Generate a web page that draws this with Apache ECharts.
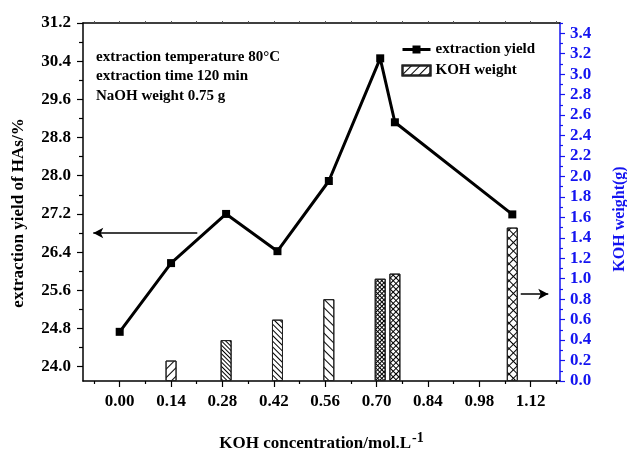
<!DOCTYPE html>
<html>
<head>
<meta charset="utf-8">
<script src="https://cdn.jsdelivr.net/npm/echarts@6/dist/echarts.min.js"></script>
<style>
  html, body { margin: 0; padding: 0; background: #fff; }
  #chart { width: 627px; height: 451px; }
</style>
</head>
<body>
<div id="chart"></div>
<script>
// KOH concentration (mol/L) and extraction yield (%)
const concX = [0, 0.14, 0.29, 0.43, 0.57, 0.71, 0.75, 1.07];
const yieldVals = [24.73, 26.17, 27.2, 26.42, 27.89, 30.46, 29.12, 27.19];
// KOH weight bars (g)
const barX = [0.14, 0.29, 0.43, 0.57, 0.71, 0.75, 1.07];
const barW = [0.2, 0.4, 0.6, 0.8, 1.0, 1.05, 1.5];

// tick labels
const xTicks = [0, 0.14, 0.28, 0.42, 0.56, 0.70, 0.84, 0.98, 1.12];
const xMinorTicks = [-0.07, 0.07, 0.21, 0.35, 0.49, 0.63, 0.77, 0.91, 1.05, 1.19];
const yieldTicks = [24.0, 24.8, 25.6, 26.4, 27.2, 28.0, 28.8, 29.6, 30.4, 31.2];
const yieldMinorTicks = [24.4, 25.2, 26.0, 26.8, 27.6, 28.4, 29.2, 30.0, 30.8];
const weightTicks = [0, 0.2, 0.4, 0.6, 0.8, 1.0, 1.2, 1.4, 1.6, 1.8, 2.0, 2.2, 2.4, 2.6, 2.8, 3.0, 3.2, 3.4];
const weightMinorTicks = [0.1, 0.3, 0.5, 0.7, 0.9, 1.1, 1.3, 1.5, 1.7, 1.9, 2.1, 2.3, 2.5, 2.7, 2.9, 3.1, 3.3, 3.5];

const FONT = "'Liberation Serif', 'Times New Roman', serif";
const BLUE = '#1414f0';

// hatch patterns
function lines(gap, rot) {
  return { color: '#000', symbol: 'rect', symbolSize: 1, symbolKeepAspect: false,
           dashArrayX: [1, 0], dashArrayY: [1, gap], rotation: rot };
}
function cross(gap) {
  return { color: '#000', symbol: 'rect', symbolSize: 1, symbolKeepAspect: false,
           dashArrayX: [[1, 0], [1, gap]], dashArrayY: [1, 0, gap, 0], rotation: Math.PI / 4 };
}
const hatch = [
  lines(5, -Math.PI / 4),
  lines(2, Math.PI / 4),
  lines(3, Math.PI / 4),
  lines(5, Math.PI / 4),
  cross(2),
  cross(3),
  cross(5)
];

const chart = echarts.init(document.getElementById('chart'));

const option = {
  backgroundColor: '#fff',
  animation: false,
  textStyle: { fontFamily: FONT },
  grid: { left: 83, right: 67, top: 23, bottom: 70, outerBoundsMode: 'none', containLabel: false },
  legend: {
    orient: 'vertical',
    left: 396,
    top: 37,
    itemWidth: 28,
    itemHeight: 10,
    itemGap: 6,
    textStyle: { fontFamily: FONT, fontSize: 15, fontWeight: 'bold', color: '#000' },
    data: [
      { name: 'extraction yield', lineStyle: { width: 3 } },
      { name: 'KOH weight', icon: 'rect' }
    ]
  },
  graphic: [{
    type: 'text',
    left: 96,
    top: 47,
    style: {
      text: 'extraction temperature 80°C\nextraction time 120 min\nNaOH weight 0.75 g',
      font: 'bold 15px ' + FONT,
      lineHeight: 19.5,
      fill: '#000'
    }
  }],
  xAxis: [{
    type: 'value',
    min: -0.1,
    max: 1.2,
    position: 'bottom',
    name: 'KOH concentration/mol.L{sup|-1}',
    nameLocation: 'middle',
    nameGap: 50,
    nameTextStyle: {
      fontFamily: FONT, fontSize: 17, fontWeight: 'bold', color: '#000',
      rich: { sup: { fontFamily: FONT, fontSize: 14, fontWeight: 'bold', color: '#000', verticalAlign: 'top', padding: [0, 0, 12, 1] } }
    },
    axisLine: { onZero: false, lineStyle: { color: '#000', width: 1.5 } },
    axisTick: { customValues: xTicks, length: 6, lineStyle: { color: '#000', width: 1.2 } },
    axisLabel: {
      customValues: xTicks, margin: 12,
      fontFamily: FONT, fontSize: 17, fontWeight: 'bold', color: '#000',
      formatter: v => v.toFixed(2)
    },
    splitLine: { show: false }
  }, {
    type: 'value',
    min: -0.1,
    max: 1.2,
    position: 'bottom',
    axisLine: { show: false, onZero: false },
    axisTick: { customValues: xMinorTicks, length: 3, lineStyle: { color: '#000', width: 1.2 } },
    axisLabel: { show: false },
    splitLine: { show: false }
  }, {
    type: 'value',
    min: -0.1,
    max: 1.2,
    position: 'top',
    axisLine: { onZero: false, lineStyle: { color: '#000', width: 1.5 } },
    axisTick: { customValues: xTicks.concat(xMinorTicks), length: 2, lineStyle: { color: '#555', width: 1 } },
    axisLabel: { show: false },
    splitLine: { show: false }
  }],
  yAxis: [{
    type: 'value',
    min: 23.7,
    max: 31.2,
    position: 'left',
    name: 'extraction yield of HAs/%',
    nameLocation: 'middle',
    nameRotate: 90,
    nameGap: 56,
    nameTextStyle: { fontFamily: FONT, fontSize: 17, fontWeight: 'bold', color: '#000', padding: [0, 22, 0, 0] },
    axisLine: { onZero: false, lineStyle: { color: '#000', width: 1.5 } },
    axisTick: { customValues: yieldTicks, length: 6, lineStyle: { color: '#000', width: 1.2 } },
    axisLabel: {
      customValues: yieldTicks, margin: 12,
      fontFamily: FONT, fontSize: 17, fontWeight: 'bold', color: '#000',
      formatter: v => v.toFixed(1)
    },
    splitLine: { show: false }
  }, {
    type: 'value',
    min: 0,
    max: 3.5,
    position: 'right',
    name: 'KOH weight(g)',
    nameLocation: 'middle',
    nameRotate: 90,
    nameGap: 52,
    nameTextStyle: { fontFamily: FONT, fontSize: 16, fontWeight: 'bold', color: BLUE, padding: [0, 34, 0, 0] },
    axisLine: { onZero: false, lineStyle: { color: BLUE, width: 1.5 } },
    axisTick: { customValues: weightTicks, length: 5, lineStyle: { color: BLUE, width: 1.2 } },
    axisLabel: {
      customValues: weightTicks, margin: 10,
      fontFamily: FONT, fontSize: 17, fontWeight: 'bold', color: BLUE,
      formatter: v => v.toFixed(1)
    },
    splitLine: { show: false }
  }, {
    type: 'value',
    min: 23.7,
    max: 31.2,
    position: 'left',
    axisLine: { show: false, onZero: false },
    axisTick: { customValues: yieldMinorTicks, length: 4, lineStyle: { color: '#000', width: 1.2 } },
    axisLabel: { show: false },
    splitLine: { show: false }
  }, {
    type: 'value',
    min: 0,
    max: 3.5,
    position: 'right',
    axisLine: { show: false, onZero: false },
    axisTick: { customValues: weightMinorTicks, length: 3, lineStyle: { color: BLUE, width: 1.2 } },
    axisLabel: { show: false },
    splitLine: { show: false }
  }],
  series: [{
    name: 'KOH weight',
    type: 'bar',
    xAxisIndex: 0,
    yAxisIndex: 1,
    barWidth: 11,
    z: 2,
    itemStyle: { color: '#fff', borderColor: '#222', borderWidth: 1, decal: hatch[0] },
    data: barX.map((x, i) => ({ value: [x, barW[i]], itemStyle: { decal: hatch[i] } })),
    markLine: {
      silent: true,
      symbol: ['none', 'arrow'],
      symbolSize: [8, 10],
      label: { show: false },
      lineStyle: { color: '#000', width: 1.5, type: 'solid' },
      data: [[{ coord: [1.093, 0.85] }, { coord: [1.168, 0.85] }]]
    }
  }, {
    name: 'extraction yield',
    type: 'line',
    xAxisIndex: 0,
    yAxisIndex: 0,
    z: 5,
    symbol: 'rect',
    symbolSize: 8,
    lineStyle: { color: '#000', width: 3 },
    itemStyle: { color: '#000' },
    data: concX.map((x, i) => [x, yieldVals[i]]),
    markLine: {
      silent: true,
      symbol: ['none', 'arrow'],
      symbolSize: [8, 10],
      label: { show: false },
      lineStyle: { color: '#000', width: 1.5, type: 'solid' },
      data: [[{ coord: [0.2115, 26.8] }, { coord: [-0.072, 26.8] }]]
    }
  }]
};

chart.setOption(option);
</script>
</body>
</html>
